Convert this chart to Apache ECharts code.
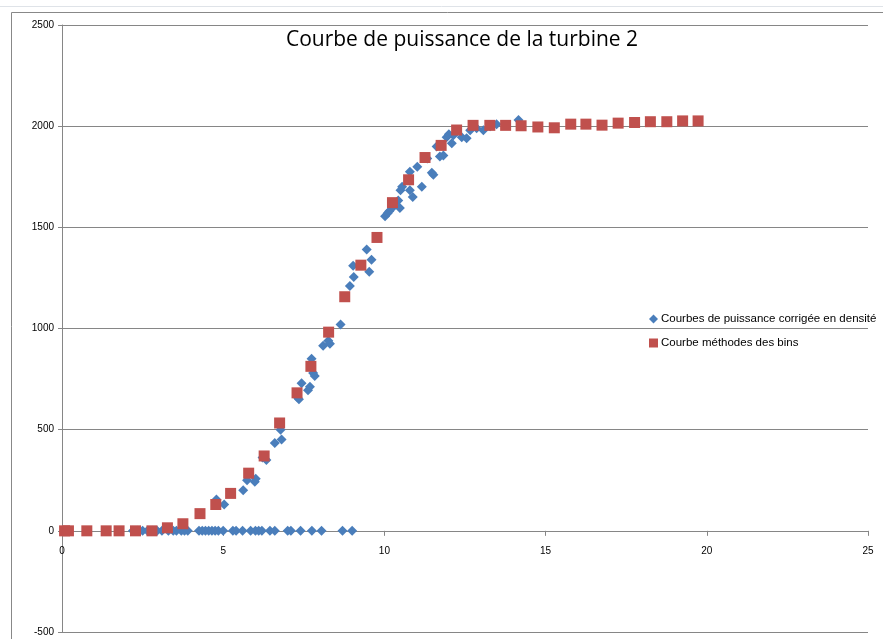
<!DOCTYPE html>
<html>
<head>
<meta charset="utf-8">
<script src="https://cdn.jsdelivr.net/npm/echarts@6/dist/echarts.min.js"></script>
<style>html,body{margin:0;padding:0;background:#fff}#c{width:883px;height:639px}</style>
</head>
<body>
<div id="c"></div>
<script>
const title = "Courbe de puissance de la turbine 2";
const seriesNames = ["Courbes de puissance corrigée en densité", "Courbe méthodes des bins"];

// Blue diamonds: measured (density-corrected) points
const blueX = [2.2,2.35,2.5,2.65,2.8,2.95,3.1,3.3,3.45,3.55,3.7,3.8,3.9,4.25,4.35,4.45,4.55,4.65,4.75,4.85,5.0,5.3,5.4,5.6,5.85,6.0,6.1,6.2,6.45,6.6,7.0,7.1,7.4,7.75,8.05,8.7,9.0,
  4.79,5.03,5.62,5.74,5.98,6.01,6.22,6.34,6.6,6.81,6.78,7.35,7.3,7.43,7.63,7.69,7.74,7.79,7.84,8.1,8.31,8.26,8.64,8.93,9.05,9.03,9.45,9.53,9.6,10.02,10.1,10.15,10.27,10.48,10.43,10.5,10.55,10.79,10.79,10.88,11.02,11.16,11.33,11.47,11.52,11.62,11.72,11.83,11.93,12.0,12.09,12.14,12.25,12.4,12.55,12.66,12.86,13.07,13.28,13.48,14.16];
const blueY = [0,0,0,0,0,0,0,0,0,0,0,0,0,0,0,0,0,0,0,0,0,0,0,0,0,0,0,0,0,0,0,0,0,0,0,0,0,
  155,130,200,250,243,258,362,350,434,452,500,650,660,730,695,712,850,780,765,915,925,940,1020,1210,1255,1310,1390,1280,1340,1555,1570,1580,1600,1595,1633,1683,1700,1775,1683,1650,1800,1700,1840,1770,1760,1900,1850,1855,1945,1960,1915,1955,1975,1945,1940,1980,1990,1980,2000,2010,2030];

// Red squares: bins method
const redX = [0.08,0.2,0.77,1.37,1.77,2.28,2.79,3.27,3.75,4.28,4.77,5.23,5.79,6.27,6.75,7.29,7.72,8.27,8.77,9.27,9.77,10.25,10.75,11.26,11.76,12.24,12.75,13.27,13.76,14.24,14.76,15.27,15.78,16.25,16.75,17.25,17.76,18.25,18.76,19.25,19.73];
const redY = [0,0,0,0,0,0,0,15,35,85,130,185,285,370,533,682,813,982,1157,1313,1450,1622,1735,1845,1905,1981,2004,2004,2004,2002,1996,1992,2010,2010,2005,2015,2018,2022,2022,2026,2026];

const xTicks = {min:0, max:25, interval:5};
const yTicks = {min:-500, max:2500, interval:500};

const GRID = {left: 62, right: 15, top: 25, bottom: 7};
const plotH = 639 - GRID.top - GRID.bottom;
// shift the x axis from the bottom of the plot up to where y = 0
const zeroOffset = -plotH * (0 - yTicks.min) / (yTicks.max - yTicks.min);

const pair = (xs, ys) => xs.map((x, i) => [x, ys[i]]);
const chart = echarts.init(document.getElementById('c'), null, {renderer:'canvas'});
const FONT = "'Liberation Sans', 'DejaVu Sans', sans-serif";
chart.setOption({
  animation: false,
  backgroundColor: '#fff',
  title: {
    text: title, left: 457, top: 25, textAlign: 'center',
    textStyle: {fontFamily: "'Open Sans', 'Noto Sans', sans-serif", fontSize: 21, fontWeight: 'normal', color: '#000'}
  },
  legend: {
    orient: 'vertical', left: 644, top: 308, itemGap: 12, itemWidth: 9, itemHeight: 9,
    textStyle: {fontFamily: FONT, fontSize: 11.5, color: '#000', padding: [0,0,0,-2]},
    data: [{name: seriesNames[0], icon: 'diamond'}, {name: seriesNames[1], icon: 'rect'}]
  },
  graphic: [
    {type: 'line', shape: {x1: 0, y1: 6.5, x2: 883, y2: 6.5}, style: {stroke: '#dfe3e8', lineWidth: 1}, silent: true},
    {type: 'rect', shape: {x: 11.5, y: 12.5, width: 880, height: 640}, style: {fill: 'none', stroke: '#888', lineWidth: 1}, silent: true, z: -1}
  ],
  grid: Object.assign({containLabel: false, outerBoundsMode: 'none'}, GRID),
  xAxis: {
    type: 'value', min: xTicks.min, max: xTicks.max, interval: xTicks.interval,
    position: 'bottom', offset: zeroOffset,
    axisLine: {show: true, onZero: false, lineStyle: {color: '#868686', width: 1}},
    axisTick: {show: true, inside: false, length: 5, lineStyle: {color: '#868686'}},
    axisLabel: {fontFamily: FONT, fontSize: 10, color: '#000', margin: 15, formatter: v => String(v)},
    splitLine: {show: false}
  },
  yAxis: {
    type: 'value', min: yTicks.min, max: yTicks.max, interval: yTicks.interval,
    axisLine: {show: true, onZero: false, lineStyle: {color: '#868686', width: 1}},
    axisTick: {show: true, inside: false, length: 4, lineStyle: {color: '#868686'}},
    axisLabel: {fontFamily: FONT, fontSize: 10, color: '#000', margin: 8, formatter: v => String(v)},
    splitLine: {show: true, lineStyle: {color: '#868686', width: 1}}
  },
  series: [
    {name: seriesNames[0], type: 'scatter', symbol: 'diamond', symbolSize: 10,
     itemStyle: {color: '#4a7ebb', opacity: 1}, data: pair(blueX, blueY), z: 2},
    {name: seriesNames[1], type: 'scatter', symbol: 'rect', symbolSize: 11,
     itemStyle: {color: '#c0504d', opacity: 1}, data: pair(redX, redY), z: 3}
  ]
});
</script>
</body>
</html>
